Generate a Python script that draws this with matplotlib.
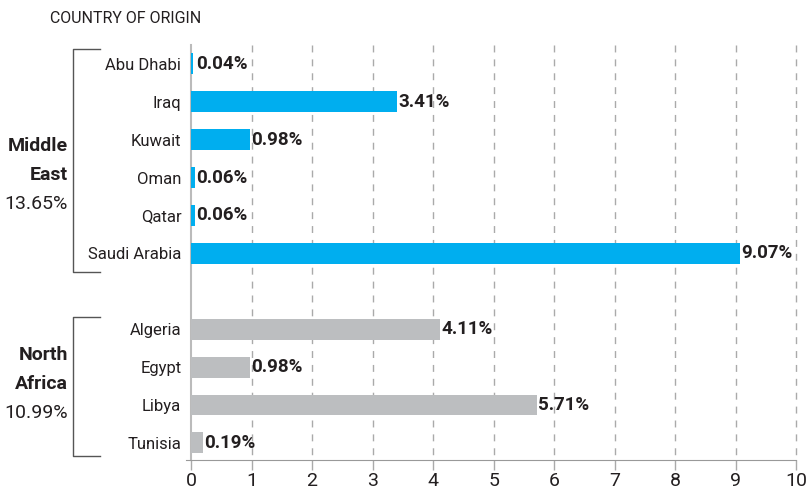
import matplotlib
matplotlib.use("Agg")
import matplotlib.pyplot as plt

plt.rcParams['font.family'] = ['Roboto', 'DejaVu Sans']

# data
me_countries = ['Abu Dhabi', 'Iraq', 'Kuwait', 'Oman', 'Qatar', 'Saudi Arabia']
me_values = [0.04, 3.41, 0.98, 0.06, 0.06, 9.07]
na_countries = ['Algeria', 'Egypt', 'Libya', 'Tunisia']
na_values = [4.11, 0.98, 5.71, 0.19]
group_names = [['Middle', 'East'], ['North', 'Africa']]
group_totals = ['13.65%', '10.99%']
xticks = list(range(0, 11))

blue = '#00AEEF'
grey = '#BCBEC0'
text_col = '#231F20'

fig = plt.figure(figsize=(8.06, 4.93), dpi=100)
ax = fig.add_axes([0.237, 0.067, 0.751, 0.842])

me_pos = list(range(len(me_countries)))
na_pos = [len(me_countries) + 1 + i for i in range(len(na_countries))]

ax.barh(me_pos, me_values, height=0.55, color=blue, zorder=3)
ax.barh(na_pos, na_values, height=0.55, color=grey, zorder=3)

for p, v in zip(me_pos + na_pos, me_values + na_values):
    ax.text(max(v, 0.07) + 0.02, p, f'{v:.2f}%', va='center', ha='left',
            fontsize=13.5, fontweight='bold', color=text_col, zorder=4)

ax.set_yticks(me_pos + na_pos)
ax.set_yticklabels(me_countries + na_countries, fontsize=12, color=text_col)
ax.tick_params(axis='y', length=0, pad=7)

ax.set_xlim(0, 10)
ax.set_ylim(na_pos[-1] + 0.45, -0.5)
ax.set_xticks(xticks)
ax.set_xticklabels([str(t) for t in xticks], fontsize=14, color=text_col)
ax.tick_params(axis='x', length=7, color='#aaaaaa', width=1, pad=2)

ax.vlines(xticks[1:], -0.5, na_pos[-1] + 0.45, colors='#aaaaaa',
          linestyles=(0, (5, 5)), linewidth=1, zorder=0, clip_on=False)
for s in ['top', 'right']:
    ax.spines[s].set_visible(False)
ax.spines['left'].set_color('#bbbbbb')
ax.spines['left'].set_linewidth(1.5)
ax.spines['bottom'].set_color('#999999')
ax.spines['bottom'].set_bounds(-0.08, 10)

# group brackets and labels
spans = [(-0.4, 5.49), (6.68, 10.34)]
centers = [2.93, 8.44]
for (y0, y1), c, names, tot in zip(spans, centers, group_names, group_totals):
    xa = -1.95
    xb = -1.5
    ax.plot([xb, xa, xa, xb], [y0, y0, y1, y1], color='#555555', lw=1,
            clip_on=False)
    ax.text(-2.03, c - 0.76, names[0], ha='right', va='center', fontsize=14,
            fontweight='bold', color=text_col)
    ax.text(-2.03, c, names[1], ha='right', va='center', fontsize=14,
            fontweight='bold', color=text_col)
    ax.text(-2.03, c + 0.76, tot, ha='right', va='center', fontsize=14,
            color=text_col)

fig.text(0.062, 0.963, 'COUNTRY OF ORIGIN', fontsize=11.5, color=text_col,
         ha='left', va='center')

fig.savefig('out.png', dpi=100)
